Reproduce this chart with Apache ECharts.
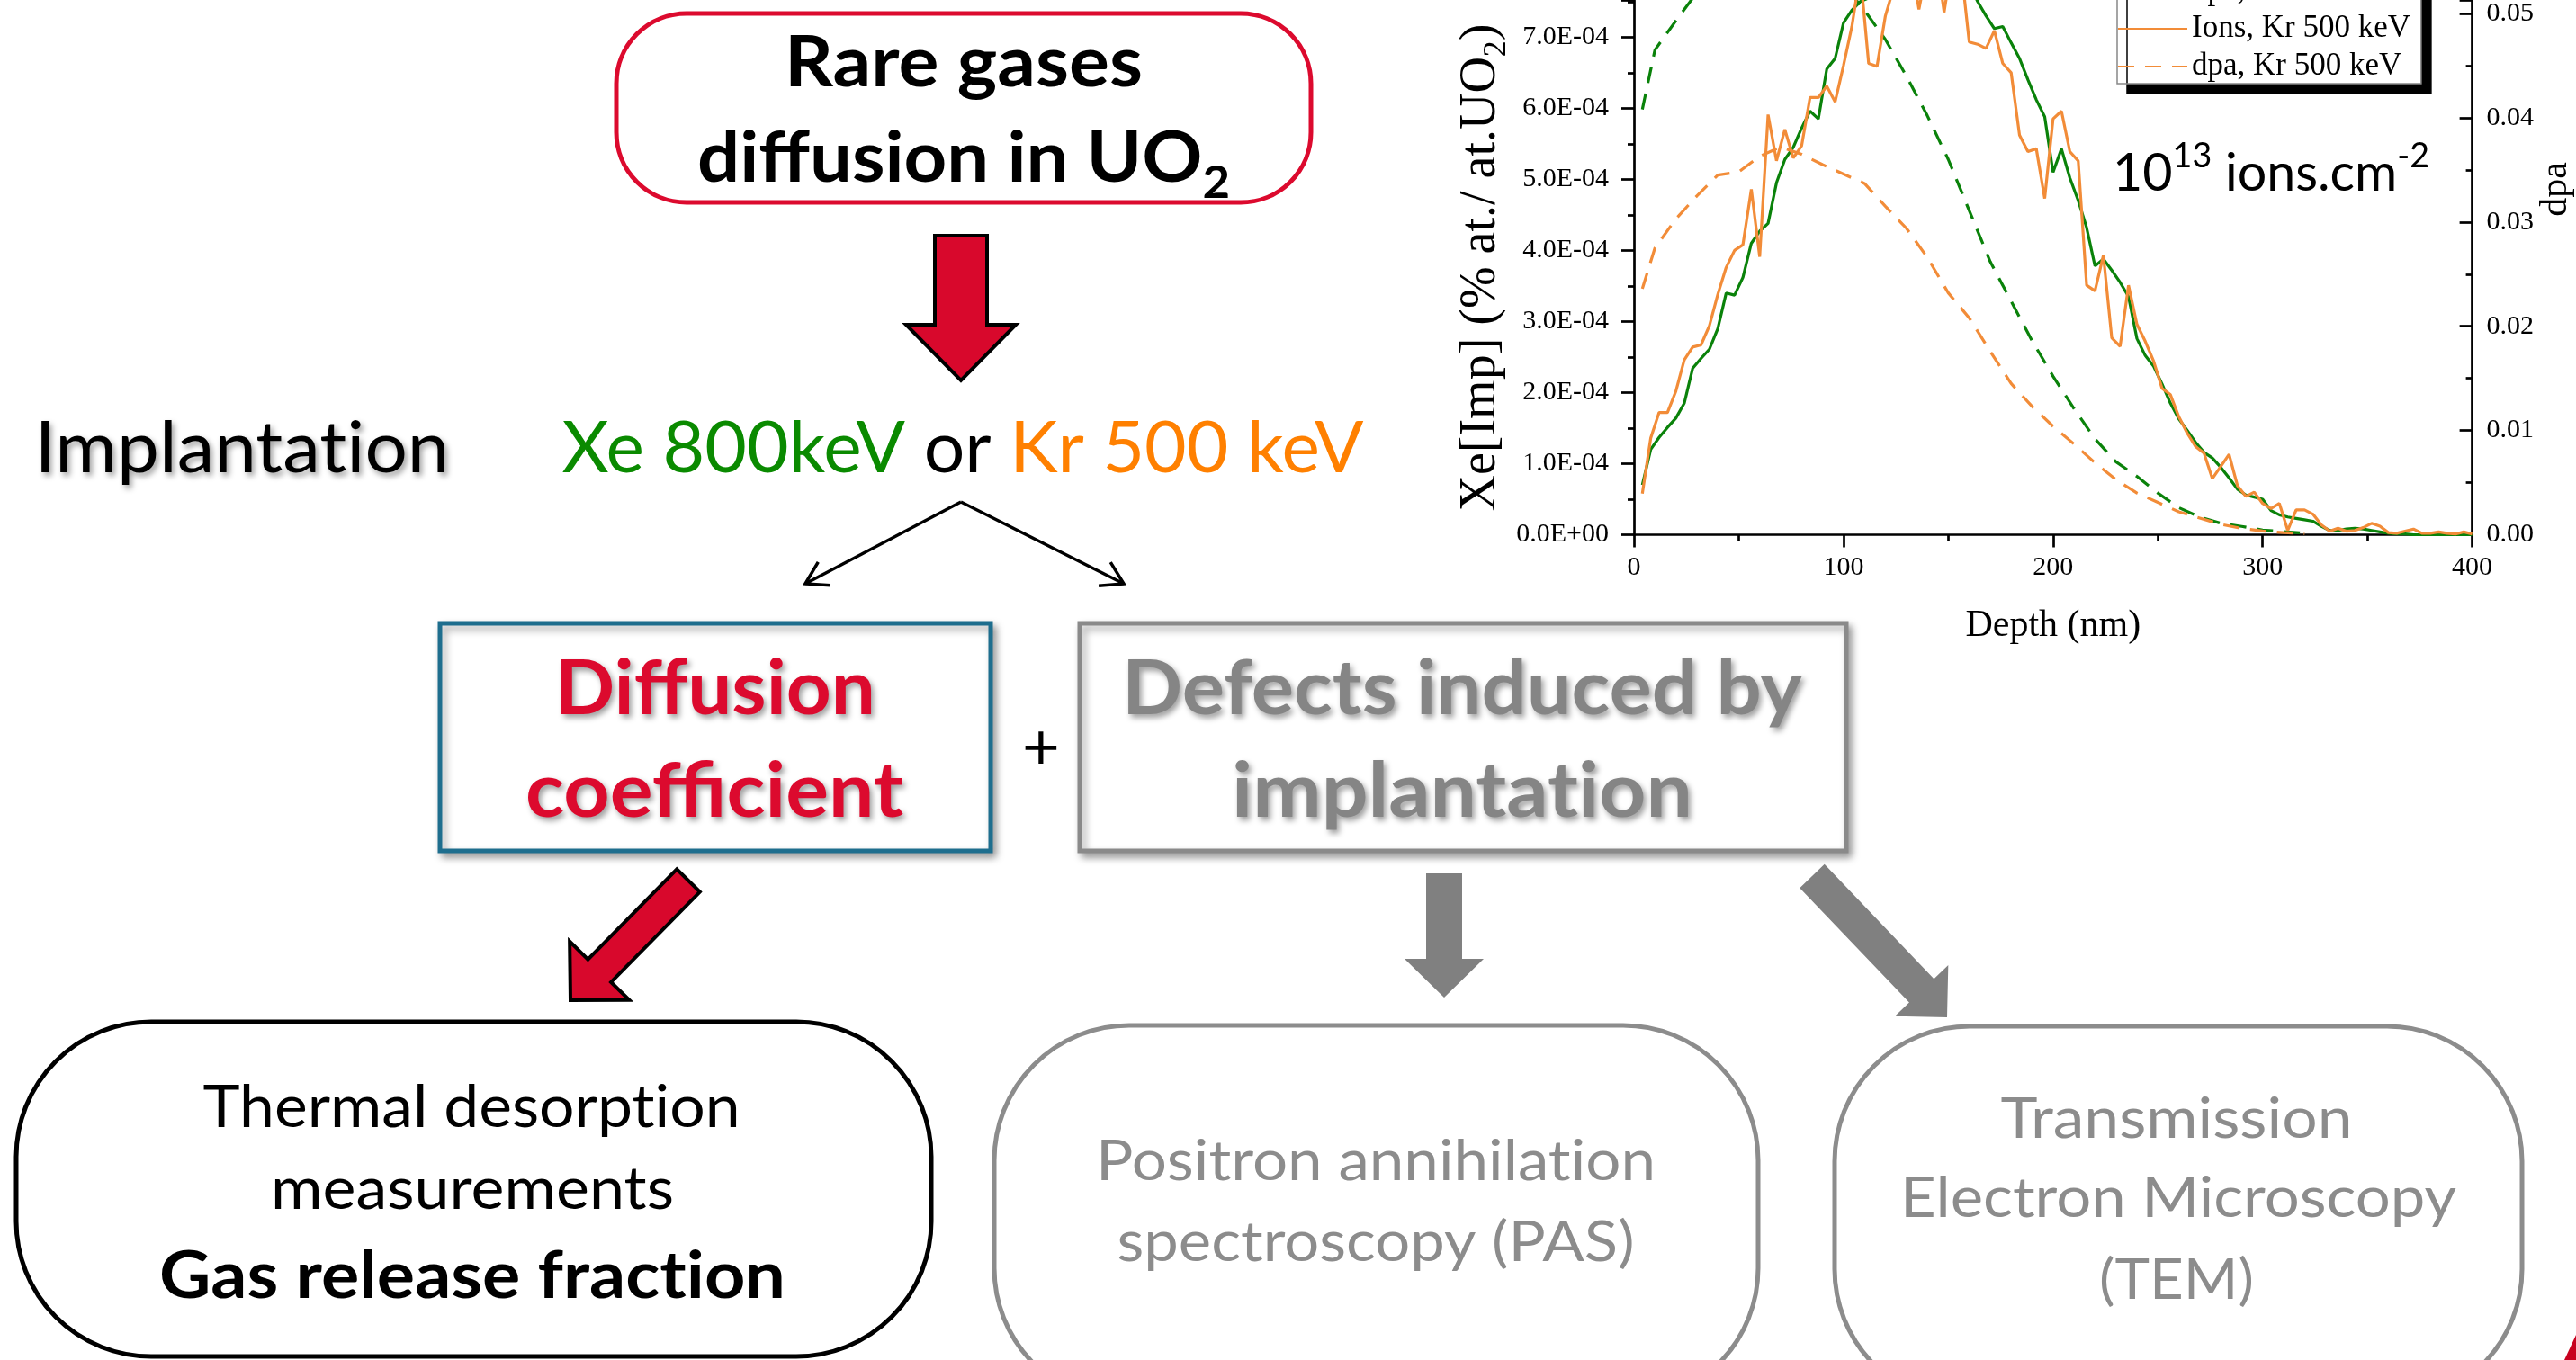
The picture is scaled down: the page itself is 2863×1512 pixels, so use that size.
<!DOCTYPE html>
<html><head><meta charset="utf-8">
<script src="https://cdn.jsdelivr.net/npm/echarts@6/dist/echarts.min.js"></script>
<style>html,body{margin:0;padding:0;background:#fff}#c{width:2863px;height:1512px}</style>
</head><body><div id="c"></div>
<script>
// ---------------- DATA ----------------
// Implanted ion profiles (unit: 1e-4 % at./at.UO2), depth in nm
const ionDepth = [4,8,12,16,20,24,28,32,36,40,44,48,52,56,60,64,68,72,76,80,84,88,92,96,100,104,108,112,116,120,124,128,132,136,140,144,148,152,156,160,164,168,172,176,180,184,188,192,196,200,204,208,212,216,220,224,228,232,236,240,244,248,252,256,260,264,268,272,276,280,284,288,292,296,300,304,308,312,316,320,324,328,332,336,340,344,348,352,356,360,364,368,372,376,380,384,388,392,396,400];
const xeIons = [0.70,1.20,1.37,1.51,1.64,1.85,2.34,2.48,2.61,2.90,
 3.40,3.37,3.62,4.10,4.27,4.38,4.95,5.28,5.45,5.72,
 5.96,5.85,6.55,6.70,7.20,7.38,7.50,7.55,7.70,7.85,
 7.95,8.05,8.10,8.12,8.12,8.10,8.05,8.00,7.90,7.75,
 7.50,7.30,7.12,7.15,6.92,6.70,6.40,6.12,5.88,5.10,
 5.43,5.02,4.70,4.32,3.78,3.88,3.72,3.55,3.35,2.76,
 2.52,2.37,2.12,1.85,1.63,1.47,1.30,1.16,1.08,0.95,
 0.80,0.64,0.56,0.53,0.50,0.34,0.28,0.25,0.23,0.21,
 0.19,0.12,0.06,0.06,0.08,0.09,0.08,0.06,0.04,0.02,
 0.01,0.01,0.00,0.00,0.00,0.00,0.00,0.00,0.00,0.00];
const krIons = [0.58,1.36,1.72,1.72,2.02,2.46,2.64,2.67,2.94,3.38,
 3.76,4.00,4.08,4.86,3.91,5.91,5.26,5.70,5.30,5.47,
 6.15,6.15,6.31,6.09,6.60,7.15,7.90,6.63,6.59,7.30,
 7.70,8.00,8.10,7.39,8.00,8.20,7.35,8.10,8.00,6.93,
 6.90,6.84,7.09,6.63,6.50,5.62,5.39,5.43,4.73,5.85,
 5.96,5.39,5.26,3.51,3.43,3.93,2.77,2.65,3.51,2.96,
 2.72,2.44,2.06,1.97,1.66,1.43,1.24,1.15,0.79,0.96,
 1.13,0.69,0.54,0.60,0.44,0.37,0.44,0.06,0.35,0.35,
 0.29,0.14,0.05,0.09,0.05,0.06,0.10,0.16,0.12,0.03,
 0.02,0.05,0.08,0.02,0.02,0.04,0.02,0.01,0.04,0.01];
// Damage profiles (dpa), depth in nm
const dpaDepth = [4,10,20,30,40,50,60,70,80,90,100,110,120,130,140,150,160,170,180,190,200,210,220,230,240,250,260,270,280,290,300,310,320];
const xeDpa = [0.0408,0.0465,0.0493,0.0520,0.0545,0.0560,0.0568,0.0570,0.0565,0.0550,0.0528,0.0503,0.0475,0.0440,0.0402,0.0360,0.0311,0.0262,0.0224,0.0186,0.0152,0.0121,0.0092,0.0070,0.0056,0.0040,0.0026,0.0017,0.0011,0.0008,0.00045,0.0003,0.00015];
const krDpa = [0.0236,0.0275,0.0303,0.0325,0.0345,0.0348,0.0363,0.0372,0.0365,0.0355,0.0346,0.0337,0.0315,0.0294,0.0266,0.0232,0.0208,0.0176,0.0145,0.0123,0.0104,0.0087,0.0069,0.0053,0.0040,0.0031,0.0022,0.0016,0.0010,0.0006,0.00036,0.0002,0.0001];
const seriesNames = ['Ions, Xe 800 keV','dpa, Xe 800 keV','Ions, Kr 500 keV','dpa, Kr 500 keV'];
const xAxisName = 'Depth (nm)';
const fluenceLabel = ['10','13',' ions.cm','-2'];

// ---------------- HELPERS ----------------
const SERIF = 'Liberation Serif';
const SANS = 'Lato';
const ZW = '\u200C'; // zero-width non-joiner: avoids Lato "ti" ligature
const GREEN = '#0a820a', ORANGE = '#F28C38';
const ctx = document.createElement('canvas').getContext('2d');
function tw(text, size, weight, family) { ctx.font = (weight||'normal') + ' ' + size + 'px ' + (family||SANS); return ctx.measureText(text).width; }
function sci(v) {
  if (Math.abs(v) < 1e-12) return '0.0E+00';
  const e = Math.floor(Math.log10(Math.abs(v)) + 1e-9);
  const m = v / Math.pow(10, e);
  return m.toFixed(1) + 'E' + (e < 0 ? '-' : '+') + String(Math.abs(e)).padStart(2, '0');
}
const SH = {textShadowColor:'rgba(0,0,0,0.38)', textShadowBlur:6, textShadowOffsetX:3, textShadowOffsetY:4};
function label(text, cx, cy, size, weight, fill, width, extra) {
  const sx = width ? width / tw(text, size, weight) : 1;
  return {type:'text', x:cx, y:cy, scaleX:sx, z:20,
    style:Object.assign({text:text, fontSize:size, fontFamily:SANS, fontWeight:weight, fill:fill, align:'center', verticalAlign:'middle'}, extra||{})};
}
function blockArrow(tx, ty, px, py, sw, hw, hl) {
  const dx = px - tx, dy = py - ty, len = Math.hypot(dx, dy);
  const ux = dx / len, uy = dy / len, nx = -uy, ny = ux;
  const bx = px - ux * hl, by = py - uy * hl;
  return [[tx + nx*sw/2, ty + ny*sw/2], [bx + nx*sw/2, by + ny*sw/2], [bx + nx*hw/2, by + ny*hw/2], [px, py],
          [bx - nx*hw/2, by - ny*hw/2], [bx - nx*sw/2, by - ny*sw/2], [tx - nx*sw/2, ty - ny*sw/2]];
}
function lineArrow(x1, y1, x2, y2, head) {
  const a = Math.atan2(y1 - y2, x1 - x2), s = 0.55;
  return [
    {type:'line', z:20, shape:{x1:x1,y1:y1,x2:x2,y2:y2}, style:{stroke:'#000', lineWidth:3.5}},
    {type:'polyline', z:20, shape:{points:[[x2 + head*Math.cos(a+s), y2 + head*Math.sin(a+s)], [x2, y2], [x2 + head*Math.cos(a-s), y2 + head*Math.sin(a-s)]]},
     style:{stroke:'#000', lineWidth:3.5, fill:null}}
  ];
}
const BOXSH = {shadowColor:'rgba(0,0,0,0.35)', shadowBlur:8, shadowOffsetX:4, shadowOffsetY:5};

// ---------------- GRAPHICS (flow chart) ----------------
const g = [];
g.push({type:'rect', z:10, shape:{x:685, y:15, width:772, height:210, r:78}, style:{fill:'#fff', stroke:'#DC0A2E', lineWidth:5}});
g.push(label('Rare gases', 1071, 71, 79, 'bold', '#000', 398));
(function(){
  const S = 79, L = 104, d = 30;
  const wMain = tw('diffusion in UO', S, 'bold'), wSub = tw('2', 50, 'bold');
  const sx = 592 / (wMain + wSub);
  g.push({type:'text', x:1071, y:177, scaleX:sx, z:20, style:{text:'{a|diffusion in UO}{b|2}', align:'center', verticalAlign:'middle',
    rich:{a:{fontSize:S, fontFamily:SANS, fontWeight:'bold', fill:'#000', lineHeight:L},
          b:{fontSize:50, fontFamily:SANS, fontWeight:'bold', fill:'#000', lineHeight:L - 2*d, verticalAlign:'bottom'}}}});
})();
g.push({type:'polygon', z:15, shape:{points:blockArrow(1068, 262, 1068, 423, 58, 122, 62)}, style:{fill:'#D8082C', stroke:'#000', lineWidth:4}});
g.push(label('Implantat' + ZW + 'ion', 269, 499, 80, 'normal', '#000', 461, SH));
(function(){
  const S = 80;
  const parts = [['Xe 800keV', '#0A8A00'], [' or ', '#000'], ['Kr 500 keV', '#FF8000']];
  let tot = 0; parts.forEach(p => tot += tw(p[0], S, 'normal'));
  g.push({type:'text', x:1070, y:499, scaleX:891 / tot, z:20, style:{text:'{g|Xe 800keV}{k| or }{o|Kr 500 keV}', align:'center', verticalAlign:'middle',
    rich:{g:{fontSize:S, fontFamily:SANS, fill:parts[0][1]}, k:{fontSize:S, fontFamily:SANS, fill:parts[1][1]}, o:{fontSize:S, fontFamily:SANS, fill:parts[2][1]}}}});
})();
lineArrow(1068, 558, 895, 649, 28).forEach(e => g.push(e));
lineArrow(1068, 558, 1249, 649, 28).forEach(e => g.push(e));
g.push({type:'rect', z:10, shape:{x:489, y:693, width:612, height:253}, style:Object.assign({fill:'#fff', stroke:'#1E6E8E', lineWidth:5}, BOXSH)});
g.push(label('Diffusion', 795, 767, 85, 'bold', '#DC0A2E', 356, SH));
g.push(label('coefficient', 794, 881, 85, 'bold', '#DC0A2E', 420, SH));
g.push(label('+', 1157, 832, 72, 'normal', '#000', null));
g.push({type:'rect', z:10, shape:{x:1200, y:693, width:852, height:253}, style:Object.assign({fill:'#fff', stroke:'#8A8A8A', lineWidth:5}, BOXSH)});
g.push(label('Defects induced by', 1625, 767, 85, 'bold', '#858585', 756, SH));
g.push(label('implantat' + ZW + 'ion', 1625, 881, 85, 'bold', '#858585', 512, SH));
g.push({type:'polygon', z:15, shape:{points:blockArrow(765, 979, 634, 1112, 36, 93, 46)}, style:{fill:'#D8082C', stroke:'#000', lineWidth:4}});
g.push({type:'polygon', z:15, shape:{points:blockArrow(1605, 971, 1605, 1109, 40, 88, 43)}, style:{fill:'#808080'}});
g.push({type:'polygon', z:15, shape:{points:blockArrow(2014, 974, 2164, 1131, 38, 82, 41)}, style:{fill:'#808080'}});
g.push({type:'rect', z:10, shape:{x:18, y:1136, width:1017, height:372, r:150}, style:{fill:'#fff', stroke:'#000', lineWidth:5}});
g.push(label('Thermal desorpt' + ZW + 'ion', 524, 1232, 65, 'normal', '#000', 597));
g.push(label('measurements', 525, 1323, 65, 'normal', '#000', 448));
g.push(label('Gas release fract' + ZW + 'ion', 525, 1420, 72, 'bold', '#000', 696));
g.push({type:'rect', z:10, shape:{x:1105, y:1140, width:849, height:420, r:150}, style:{fill:'#fff', stroke:'#8C8C8C', lineWidth:5}});
g.push(label('Positron annihilat' + ZW + 'ion', 1529, 1292, 61, 'normal', '#8C8C8C', 622));
g.push(label('spectroscopy (PAS)', 1529, 1382, 61, 'normal', '#8C8C8C', 575));
g.push({type:'rect', z:10, shape:{x:2039, y:1141, width:764, height:420, r:150}, style:{fill:'#fff', stroke:'#8C8C8C', lineWidth:5}});
g.push(label('Transmission', 2419, 1245, 61, 'normal', '#8C8C8C', 391));
g.push(label('Electron Microscopy', 2421, 1333, 61, 'normal', '#8C8C8C', 618));
g.push(label('(TEM)', 2419, 1424, 61, 'normal', '#8C8C8C', 172));
g.push({type:'polygon', z:15, shape:{points:[[2850,1512],[2863,1484],[2863,1512]]}, style:{fill:'#C8001E'}});
(function(){
  const S = 58, s = 38, L = 76, d = 11;
  const tot = tw(fluenceLabel[0], S) + tw(fluenceLabel[1], s) + tw(fluenceLabel[2], S) + tw(fluenceLabel[3], s);
  g.push({type:'text', x:2524, y:193, scaleX:352 / tot, z:20, style:{text:'{a|' + fluenceLabel[0] + '}{b|' + fluenceLabel[1] + '}{a|' + fluenceLabel[2] + '}{b|' + fluenceLabel[3] + '}',
    align:'center', verticalAlign:'middle',
    rich:{a:{fontSize:S, fontFamily:SANS, fill:'#000', lineHeight:L}, b:{fontSize:s, fontFamily:SANS, fill:'#000', lineHeight:L - 2*d, verticalAlign:'top'}}}});
})();

// ---------------- CHART ----------------
const zip = (xs, ys, k) => xs.map((x, i) => [x, ys[i] * k]);
const axisCommon = {
  axisLine:{show:true, onZero:false, lineStyle:{color:'#000', width:2.7}},
  axisTick:{show:true, length:14, lineStyle:{color:'#000', width:2.7}},
  minorTick:{show:true, splitNumber:2, length:7, lineStyle:{color:'#000', width:2.7}},
  splitLine:{show:false}, minorSplitLine:{show:false}
};
const DASH = [18, 12];
const option = {
  animation:false,
  backgroundColor:'#fff',
  graphic:g,
  grid:{left:1816, right:110, top:0, bottom:917.5, containLabel:false},
  legend:{
    orient:'vertical', left:2353, top:-75, padding:[4, 8, 0, 0], itemGap:4, itemWidth:77, itemHeight:20,
    backgroundColor:'#fff', borderColor:'#888', borderWidth:1.5,
    shadowColor:'#000', shadowBlur:0, shadowOffsetX:11, shadowOffsetY:11,
    selectedMode:false, data:seriesNames,
    itemStyle:{opacity:0},
    textStyle:{fontFamily:SERIF, fontSize:35, color:'#000', lineHeight:38}
  },
  xAxis:Object.assign({type:'value', min:0, max:400, interval:100,
    name:xAxisName, nameLocation:'middle', nameGap:80, nameTextStyle:{fontFamily:SERIF, fontSize:42, color:'#000'},
    axisLabel:{fontFamily:SERIF, fontSize:30, color:'#000', margin:22}}, axisCommon),
  yAxis:[
    Object.assign({type:'value', position:'left', min:0, max:7.516e-4, interval:1e-4,
      name:'{a|Xe[Imp] (% at./ at.UO}{b|2}{a|)}', nameLocation:'middle', nameGap:122, nameRotate:90,
      nameTextStyle:{rich:{a:{fontFamily:SERIF, fontSize:56, color:'#000', lineHeight:70}, b:{fontFamily:SERIF, fontSize:36, color:'#000', lineHeight:42, verticalAlign:'bottom'}}},
      axisLabel:{fontFamily:SERIF, fontSize:30, color:'#000', margin:28, showMaxLabel:false, formatter:sci}}, axisCommon),
    Object.assign({type:'value', position:'right', min:0, max:0.05125, interval:0.01,
      name:'dpa', nameLocation:'middle', nameGap:70, nameRotate:90,
      nameTextStyle:{fontFamily:SERIF, fontSize:42, color:'#000', padding:[0, 0, 0, 174]},
      axisLabel:{fontFamily:SERIF, fontSize:30, color:'#000', margin:16, showMaxLabel:false, formatter:v => v.toFixed(2)}}, axisCommon,
      {axisTick:{show:true, inside:true, length:14, lineStyle:{color:'#000', width:2.7}}})
  ],
  series:[
    {name:seriesNames[0], type:'line', yAxisIndex:0, data:zip(ionDepth, xeIons, 1e-4), symbol:'none', lineStyle:{color:GREEN, width:3.2}, itemStyle:{color:GREEN}},
    {name:seriesNames[1], type:'line', yAxisIndex:1, data:zip(dpaDepth, xeDpa, 1), symbol:'none', lineStyle:{color:GREEN, width:3.2, type:DASH}, itemStyle:{color:GREEN}},
    {name:seriesNames[2], type:'line', yAxisIndex:0, data:zip(ionDepth, krIons, 1e-4), symbol:'none', lineStyle:{color:ORANGE, width:3.2}, itemStyle:{color:ORANGE}},
    {name:seriesNames[3], type:'line', yAxisIndex:1, data:zip(dpaDepth, krDpa, 1), symbol:'none', lineStyle:{color:ORANGE, width:3.2, type:DASH}, itemStyle:{color:ORANGE}}
  ]
};
const chart = echarts.init(document.getElementById('c'), null, {renderer:'canvas'});
chart.setOption(option);
</script>
</body></html>
